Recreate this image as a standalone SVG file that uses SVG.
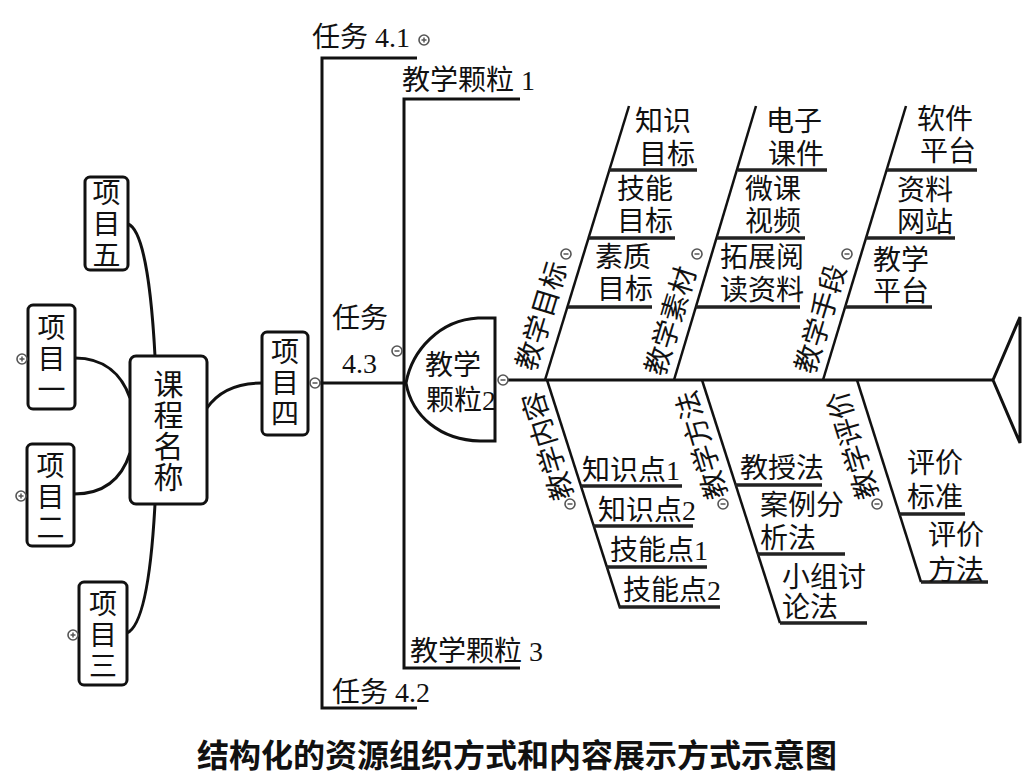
<svg xmlns="http://www.w3.org/2000/svg" width="1033" height="776" viewBox="0 0 1033 776">
<defs>
<style>
.t{font-family:"Liberation Serif","Noto Sans CJK SC",serif;font-size:28px;fill:#111}
.v{font-family:"Liberation Serif","Noto Sans CJK SC",serif;font-size:28px;fill:#111;text-anchor:middle;dominant-baseline:central}
.lb{font-family:"Liberation Serif","Noto Sans CJK SC",serif;font-size:28px;fill:#111;text-anchor:middle;dominant-baseline:central}
.ln{stroke:#111;stroke-width:3;fill:none}
.dg{stroke:#111;stroke-width:2.5;fill:none}
.sb{stroke:#222;stroke-width:3.5;fill:none}
.box{fill:#fff;stroke:#111;stroke-width:3}
.c{fill:#fff;stroke:#555;stroke-width:1.6}
.cl{stroke:#555;stroke-width:1.5}
.title{font-family:"Noto Sans CJK SC",sans-serif;font-size:32px;font-weight:bold;fill:#111;text-anchor:middle}
</style>
<g id="cm"><circle r="5" class="c"/><line x1="-2.5" x2="2.5" y1="0" y2="0" class="cl"/></g>
<g id="cp"><circle r="5" class="c"/><line x1="-2.5" x2="2.5" y1="0" y2="0" class="cl"/><line x1="0" x2="0" y1="-2.5" y2="2.5" class="cl"/></g>
</defs>
<rect width="1033" height="776" fill="#fff"/>

<g id="connectors">
  <path class="ln" d="M128,224 C145,230 152,300 155,356"/>
  <path class="ln" d="M75,358 C105,358 122,375 130,398"/>
  <path class="ln" d="M74,494 C105,494 122,478 130,453"/>
  <path class="ln" d="M127,633 C145,625 152,560 155,504"/>
  <path class="ln" d="M207,408 C218,392 235,383 262,383"/>
  <path class="ln" d="M320,383 L406,383"/>
  <path class="ln" d="M417,58 L322,58 L322,708 L417,708"/>
  <path class="ln" d="M520,99 L404,99 L404,668 L520,668"/>
  <path class="ln" d="M508,380 L993,380"/>
  <path class="ln" d="M993,380 L1020,317 L1020,443 Z"/>
  <path class="dg" d="M545,380 L629,106"/>
  <path class="dg" d="M674,380 L756,106"/>
  <path class="dg" d="M823,380 L906,106"/>
  <path class="dg" d="M547,380 L620,608"/>
  <path class="dg" d="M702,380 L780,623"/>
  <path class="dg" d="M857,380 L921,582"/>
  <path class="sb" d="M609,170 L697,170 M589,238 L675,238 M568,307 L652,307"/>
  <path class="sb" d="M738,170 L827,170 M717,238 L805,238 M696,307 L800,307"/>
  <path class="sb" d="M887,170 L977,170 M866,238 L955,238 M845,307 L932,307"/>
  <path class="sb" d="M581,486 L682,486 M593,526 L693,526 M606,567 L707,567 M619,607 L720,607"/>
  <path class="sb" d="M735,485 L822,485 M757,554 L845,554 M780,623 L867,623"/>
  <path class="sb" d="M899,514 L965,514 M921,582 L988,582"/>
</g>

<g id="n-kecheng">
  <rect class="box" x="130" y="356" width="77" height="148" rx="6"/>
  <text class="v" style="font-size:30px"><tspan x="168.5" y="384">课</tspan><tspan x="168.5" y="415">程</tspan><tspan x="168.5" y="446">名</tspan><tspan x="168.5" y="477">称</tspan></text>
</g>
<g id="n-xm5">
  <rect class="box" x="85" y="177" width="43" height="93" rx="5"/>
  <text class="v"><tspan x="106.5" y="193">项</tspan><tspan x="106.5" y="224">目</tspan><tspan x="106.5" y="255">五</tspan></text>
</g>
<g id="n-xm1">
  <rect class="box" x="28" y="305" width="47" height="104" rx="5"/>
  <text class="v"><tspan x="51.5" y="328">项</tspan><tspan x="51.5" y="359">目</tspan><tspan x="51.5" y="390">一</tspan></text>
  <use href="#cp" x="22" y="359"/>
</g>
<g id="n-xm2">
  <rect class="box" x="27" y="444" width="47" height="102" rx="5"/>
  <text class="v"><tspan x="50.5" y="466">项</tspan><tspan x="50.5" y="497">目</tspan><tspan x="50.5" y="528">二</tspan></text>
  <use href="#cp" x="21" y="496"/>
</g>
<g id="n-xm3">
  <rect class="box" x="79" y="582" width="48" height="103" rx="5"/>
  <text class="v"><tspan x="103" y="604">项</tspan><tspan x="103" y="635">目</tspan><tspan x="103" y="666">三</tspan></text>
  <use href="#cp" x="73" y="635"/>
</g>
<g id="n-xm4">
  <rect class="box" x="262" y="332" width="46" height="103" rx="5"/>
  <text class="v"><tspan x="285" y="352">项</tspan><tspan x="285" y="383">目</tspan><tspan x="285" y="414">四</tspan></text>
  <use href="#cm" x="315" y="383"/>
</g>

<g id="n-rw41">
  <text class="t" x="312" y="47">任务 4.1</text>
  <use href="#cp" x="424" y="40"/>
</g>
<g id="n-rw43">
  <text class="t" x="332" y="328">任务</text>
  <text class="t" x="342" y="373">4.3</text>
  <use href="#cm" x="397" y="351"/>
</g>
<g id="n-rw42">
  <text class="t" x="332" y="702">任务 4.2</text>
</g>
<g id="n-kl1">
  <text class="t" x="402" y="90">教学颗粒 1</text>
</g>
<g id="n-kl3">
  <text class="t" x="410" y="661">教学颗粒 3</text>
</g>
<g id="n-kl2">
  <path class="ln" d="M495,318 L478,318 C440,320 412,350 406,383 C412,416 440,440 480,441 L495,441 Z" fill="#fff"/>
  <text class="t" x="425" y="375">教学</text>
  <text class="t" x="426" y="410">颗粒2</text>
  <use href="#cm" x="503" y="380"/>
</g>

<g id="n-mubiao">
  <text class="lb" transform="translate(542,316) rotate(-73)">教学目标</text>
  <use href="#cm" x="566" y="254"/>
  <text class="t" x="635" y="131">知识</text>
  <text class="t" x="639" y="164">目标</text>
  <text class="t" x="617" y="199">技能</text>
  <text class="t" x="617" y="231">目标</text>
  <text class="t" x="595" y="267">素质</text>
  <text class="t" x="597" y="299">目标</text>
</g>
<g id="n-sucai">
  <text class="lb" transform="translate(671,321) rotate(-73)">教学素材</text>
  <use href="#cm" x="697" y="254"/>
  <text class="t" x="766" y="131">电子</text>
  <text class="t" x="768" y="164">课件</text>
  <text class="t" x="745" y="199">微课</text>
  <text class="t" x="745" y="231">视频</text>
  <text class="t" x="720" y="267">拓展阅</text>
  <text class="t" x="720" y="300">读资料</text>
</g>
<g id="n-shouduan">
  <text class="lb" transform="translate(821,319) rotate(-73)">教学手段</text>
  <use href="#cm" x="847" y="254"/>
  <text class="t" x="917" y="129">软件</text>
  <text class="t" x="920" y="161">平台</text>
  <text class="t" x="897" y="200">资料</text>
  <text class="t" x="897" y="232">网站</text>
  <text class="t" x="873" y="270">教学</text>
  <text class="t" x="873" y="301">平台</text>
</g>
<g id="n-neirong">
  <text class="lb" transform="translate(548,446) rotate(-107)">教学内容</text>
  <use href="#cm" x="570" y="504"/>
  <text class="t" x="582" y="480">知识点1</text>
  <text class="t" x="598" y="520">知识点2</text>
  <text class="t" x="610" y="560">技能点1</text>
  <text class="t" x="623" y="600">技能点2</text>
</g>
<g id="n-fangfa">
  <text class="lb" transform="translate(702,445) rotate(-107)">教学方法</text>
  <use href="#cm" x="723" y="504"/>
  <text class="t" x="740" y="478">教授法</text>
  <text class="t" x="760" y="515">案例分</text>
  <text class="t" x="760" y="548">析法</text>
  <text class="t" x="782" y="587">小组讨</text>
  <text class="t" x="782" y="617">论法</text>
</g>
<g id="n-pingjia">
  <text class="lb" transform="translate(853,445) rotate(-107)">教学评价</text>
  <use href="#cm" x="877" y="504"/>
  <text class="t" x="907" y="473">评价</text>
  <text class="t" x="907" y="507">标准</text>
  <text class="t" x="928" y="545">评价</text>
  <text class="t" x="928" y="580">方法</text>
</g>

<text class="title" x="517" y="767">结构化的资源组织方式和内容展示方式示意图</text>
</svg>
